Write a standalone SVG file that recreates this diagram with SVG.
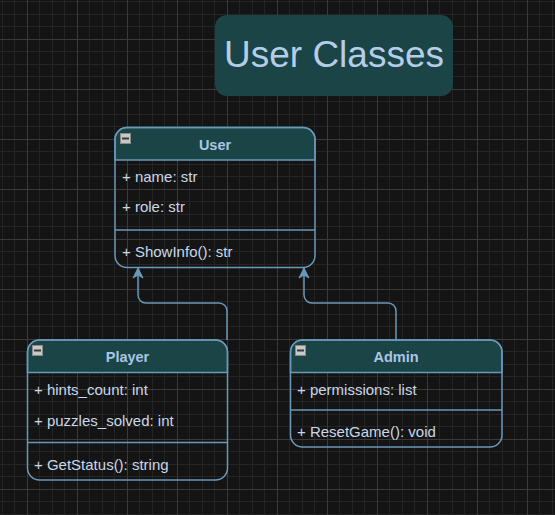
<svg xmlns="http://www.w3.org/2000/svg" width="555" height="515" viewBox="0 0 555 515">
<defs>
<pattern id="grid" x="27" y="39" width="50" height="50" patternUnits="userSpaceOnUse">
<rect x="0" y="12" width="50" height="1" fill="#242424"/>
<rect x="0" y="25" width="50" height="1" fill="#242424"/>
<rect x="0" y="37" width="50" height="1" fill="#242424"/>
<rect x="12" y="0" width="1" height="50" fill="#242424"/>
<rect x="25" y="0" width="1" height="50" fill="#242424"/>
<rect x="37" y="0" width="1" height="50" fill="#242424"/>
<rect x="0" y="0" width="50" height="1" fill="#3a3a3a"/>
<rect x="0" y="0" width="1" height="50" fill="#3a3a3a"/>
</pattern>
<marker id="arr" viewBox="0 0 12 12" refX="11" refY="6" markerWidth="12" markerHeight="12" markerUnits="userSpaceOnUse" orient="auto">
<path d="M1,1 L11,6 L1,11 L4,6 Z" fill="#6a98b8" stroke="#6a98b8" stroke-width="1" stroke-linejoin="miter"/>
</marker>
<g id="icon">
<rect x="0.5" y="0.5" width="10" height="10" fill="#c8c8c8" stroke="#8a8a8a" stroke-width="1"/>
<rect x="2" y="4.5" width="7" height="2" fill="#3a3a3a"/>
</g>
</defs>
<style>
.box{fill:none;stroke:#6a98b8;stroke-width:1.5}
.hdr{fill:#1b4446;stroke:#6a98b8;stroke-width:1.5}
.ln{stroke:#6a98b8;stroke-width:1.5;fill:none}
.ttl{font-family:"Liberation Sans",Arial,sans-serif;font-size:14.5px;font-weight:bold;fill:#a9c6e6;text-anchor:middle}
.att{font-family:"Liberation Sans",Arial,sans-serif;font-size:15px;fill:#c9d8ea}
.edge{fill:none;stroke:#6a98b8;stroke-width:1.5}
</style>
<rect x="0" y="0" width="555" height="515" fill="#141414"/>
<rect x="0" y="0" width="555" height="515" fill="url(#grid)"/>

<g id="title">
<rect x="215" y="15" width="238" height="81" rx="12" ry="12" fill="#1b4446"/>
<text x="334" y="67" font-family="'Liberation Sans',Arial,sans-serif" font-size="37" fill="#b5cde8" text-anchor="middle">User Classes</text>
</g>

<g id="connectors">
<path class="edge" d="M227,340 V311 a8,8 0 0 0 -8,-8 H146 a8,8 0 0 1 -8,-8 V268" marker-end="url(#arr)"/>
<path class="edge" d="M396,340 V311 a8,8 0 0 0 -8,-8 H312 a8,8 0 0 1 -8,-8 V268" marker-end="url(#arr)"/>
</g>

<g id="User">
<path class="hdr" d="M115,160 V139.5 a12,12 0 0 1 12,-12 H303 a12,12 0 0 1 12,12 V160 Z"/>
<rect class="box" x="115" y="127.5" width="200" height="140" rx="12" ry="12"/>
<line class="ln" x1="115" y1="230" x2="315" y2="230"/>
<use href="#icon" x="120" y="133"/>
<text class="ttl" x="215" y="150">User</text>
<text class="att" x="122" y="182">+ name: str</text>
<text class="att" x="122" y="212">+ role: str</text>
<text class="att" x="122" y="257">+ ShowInfo(): str</text>
</g>

<g id="Player">
<path class="hdr" d="M27.5,372.5 V352 a12,12 0 0 1 12,-12 H215.5 a12,12 0 0 1 12,12 V372.5 Z"/>
<rect class="box" x="27.5" y="340" width="200" height="140" rx="12" ry="12"/>
<line class="ln" x1="27.5" y1="442.5" x2="227.5" y2="442.5"/>
<use href="#icon" x="32" y="345"/>
<text class="ttl" x="127.5" y="362">Player</text>
<text class="att" x="34" y="395">+ hints_count: int</text>
<text class="att" x="34" y="426">+ puzzles_solved: int</text>
<text class="att" x="34" y="470">+ GetStatus(): string</text>
</g>

<g id="Admin">
<path class="hdr" d="M290.5,372.5 V352 a12,12 0 0 1 12,-12 H490 a12,12 0 0 1 12,12 V372.5 Z"/>
<rect class="box" x="290.5" y="340" width="211.5" height="107" rx="12" ry="12"/>
<line class="ln" x1="290.5" y1="410" x2="502" y2="410"/>
<use href="#icon" x="295" y="345"/>
<text class="ttl" x="396" y="362">Admin</text>
<text class="att" x="297" y="395">+ permissions: list</text>
<text class="att" x="297" y="437">+ ResetGame(): void</text>
</g>
</svg>
